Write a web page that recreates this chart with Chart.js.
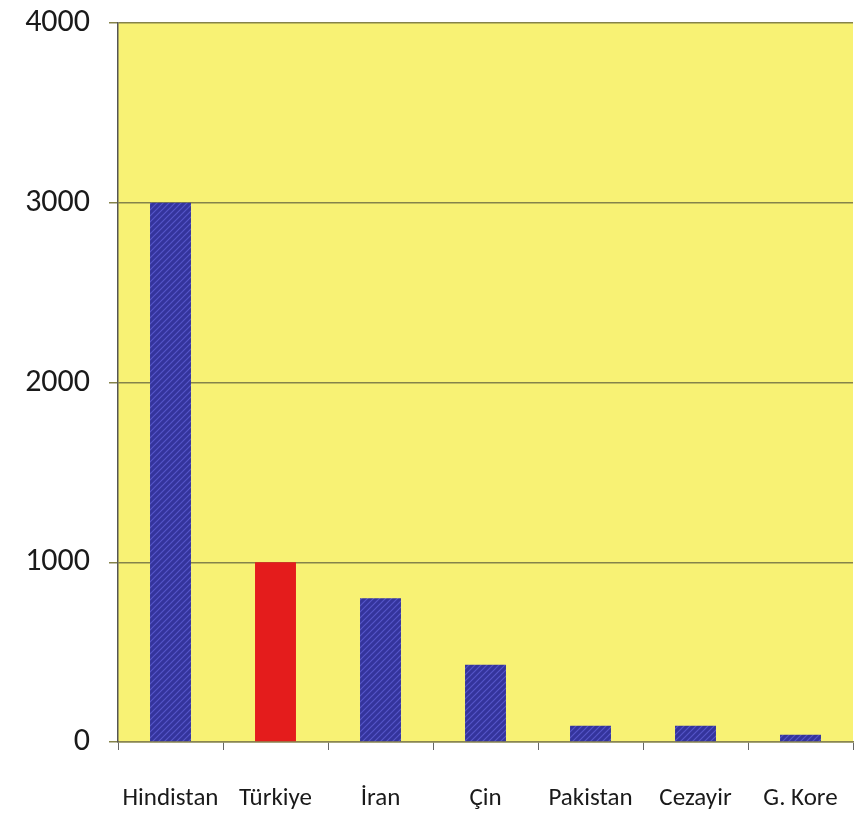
<!DOCTYPE html>
<html>
<head>
<meta charset="utf-8">
<script src="https://cdn.jsdelivr.net/npm/chart.js@4.4.1/dist/chart.umd.min.js"></script>
<style>
html,body{margin:0;padding:0;background:#fff;}
#wrap{width:866px;height:824px;position:relative;}
</style>
</head>
<body>
<div id="wrap"><canvas id="c" width="866" height="824"></canvas></div>
<script>
const categories = ["Hindistan", "Türkiye", "İran", "Çin", "Pakistan", "Cezayir", "G. Kore"];
const values = [3000, 1000, 800, 430, 90, 90, 40];
const highlight = ["Türkiye"];
const yTicks = [0, 1000, 2000, 3000, 4000];

function hatch(base, line) {
  const p = document.createElement('canvas');
  p.width = 6; p.height = 6;
  const g = p.getContext('2d');
  g.fillStyle = base; g.fillRect(0, 0, 6, 6);
  g.strokeStyle = line; g.lineWidth = 1.2;
  g.beginPath();
  g.moveTo(0, 6); g.lineTo(6, 0);
  g.moveTo(-3, 3); g.lineTo(3, -3);
  g.moveTo(3, 9); g.lineTo(9, 3);
  g.stroke();
  return g.createPattern(p, 'repeat');
}
const ctx = document.getElementById('c').getContext('2d');
const bluePat = hatch('#34349c', '#5555c8');

const bgPlugin = {
  id: 'plotBg',
  beforeDraw(chart) {
    const a = chart.chartArea, c = chart.ctx;
    c.save();
    c.fillStyle = '#f8f274';
    c.fillRect(a.left, a.top, a.right - a.left, a.bottom - a.top);
    c.restore();
  }
};

const FONT = '"Carlito", "Liberation Sans Narrow", "DejaVu Sans Condensed", "DejaVu Sans", sans-serif';

new Chart(ctx, {
  type: 'bar',
  data: {
    labels: categories,
    datasets: [{
      data: values,
      backgroundColor: categories.map(c => highlight.includes(c) ? '#e41c1c' : bluePat),
      borderWidth: 0,
      categoryPercentage: 1,
      barPercentage: 0.39
    }]
  },
  options: {
    responsive: false,
    animation: false,
    layout: { padding: { top: 23, right: 13, left: 0, bottom: 0 } },
    plugins: { legend: { display: false }, tooltip: { enabled: false } },
    scales: {
      x: {
        offset: true,
        grid: { display: true, offset: true, drawOnChartArea: false, drawTicks: true, tickLength: 8, color: '#666', lineWidth: 1 },
        border: { display: true, color: '#8a8650', width: 1.5 },
        ticks: { color: '#1a1a1a', padding: 34, autoSkip: false, font: { family: FONT, size: 25, weight: 'normal' }, maxRotation: 0 },
        afterFit(s) { s.height = 82; s.paddingLeft = 0; s.paddingRight = 0; }
      },
      y: {
        min: 0, max: 4000,
        afterBuildTicks(s) { s.ticks = yTicks.map(v => ({ value: v })); },
        grid: { color: '#85834a', lineWidth: 1.5, tickLength: 9, drawTicks: true },
        border: { display: true, color: '#555', width: 1.5 },
        ticks: { color: '#1a1a1a', padding: 19, font: { family: FONT, size: 32 }, callback: v => String(v) },
        afterFit(s) { s.width = 118; s.paddingTop = 0; s.paddingBottom = 0; }
      }
    }
  },
  plugins: [bgPlugin]
});
</script>
</body>
</html>
